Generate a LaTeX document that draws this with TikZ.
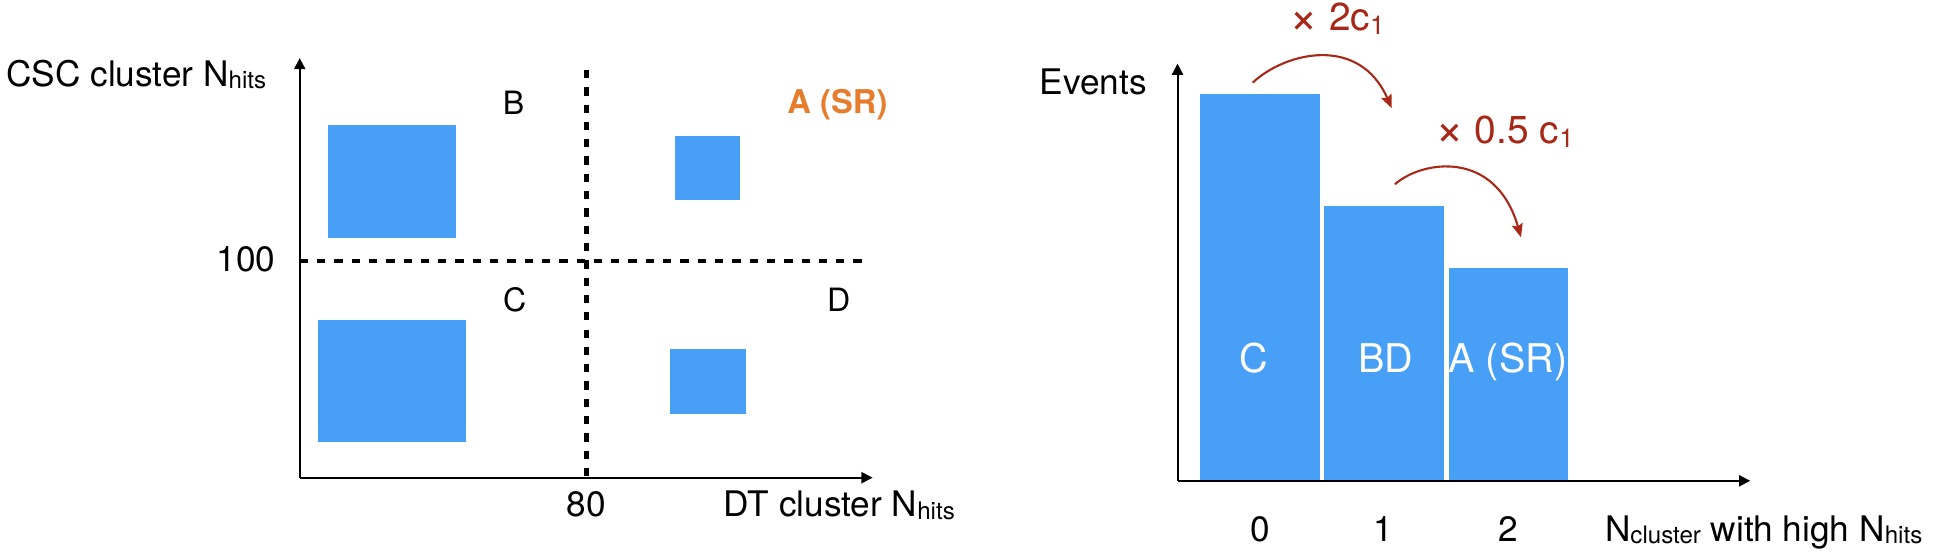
\documentclass[tikz,border=0pt]{standalone}
\usepackage{fontspec}
\setmainfont{TeX Gyre Heros}
\usetikzlibrary{arrows.meta}
\definecolor{barblue}{RGB}{72,159,246}
\definecolor{srorange}{RGB}{230,125,45}
\definecolor{arrred}{RGB}{168,40,24}
\newcommand{\mysub}[1]{\raisebox{-2pt}{\fontsize{19.5}{21}\selectfont #1}}
\newcommand{\redsub}[1]{\raisebox{-3pt}{\fontsize{21}{23}\selectfont #1}}
\newcommand{\bigtimes}{\raisebox{-2pt}[0pt][0pt]{\fontsize{40}{42}\selectfont ×}}
\tikzset{
  axisline/.style={line width=1.6pt, -{Triangle[length=9pt,width=9pt]}},
  cutline/.style={line width=3.3pt, dash pattern=on 6.7pt off 7.3pt},
  blk/.style={fill=barblue, draw=none, inner sep=0pt, anchor=north west},
  lbl/.style={inner sep=0pt, font=\fontsize{28.5}{32}\selectfont},
  qlbl/.style={inner sep=0pt, anchor=base, font=\fontsize{26}{30}\selectfont},
  barlbl/.style={inner sep=0pt, anchor=base, text=white, font=\fontsize{32}{36}\selectfont},
  redlbl/.style={inner sep=0pt, anchor=base west, text=arrred, font=\fontsize{31.5}{36}\selectfont},
  redarrow/.style={draw=arrred, line width=1.7pt, -{Stealth[length=11pt,width=9pt,inset=2pt]}}
}
\begin{document}
\begin{tikzpicture}[x=1pt,y=-1pt]
\useasboundingbox (0,0) rectangle (1568,449);

% ---------- left plot ----------
\node[blk, minimum width=104pt, minimum height=91.5pt] (sqB) at (265,101) {};
\node[blk, minimum width=52.5pt, minimum height=52pt] (sqA) at (546,109.5) {};
\node[blk, minimum width=120pt, minimum height=98.5pt] (sqC) at (257,259) {};
\node[blk, minimum width=62pt, minimum height=52pt] (sqD) at (541.5,282.5) {};

\coordinate (Lo) at (242.5,386.5);
\coordinate (Ly) at (242.5,47);
\coordinate (Lx) at (706,386.5);
\coordinate (h1) at (242.5,210.8);
\coordinate (h2) at (703,210.8);
\coordinate (v1) at (474.5,56.6);
\coordinate (v2) at (474.5,386.5);

\draw[cutline] (h1) -- (h2);
\draw[cutline] (v1) -- (v2);
\draw[axisline] (Lo) -- (Ly);
\draw[axisline] (Lo) -- (Lx);

\node[lbl, anchor=base west] (csc) at (4.9,69.6) {CSC cluster N\mysub{hits}};
\node[lbl, anchor=base west] (dt) at (585.5,418) {DT cluster N\mysub{hits}};
\node[lbl, anchor=base] (t100) at (199,220) {100};
\node[lbl, anchor=base] (t80) at (474.5,418) {80};

\node[qlbl] (lB) at (415.5,92.9) {B};
\node[qlbl] (lC) at (416.5,252.4) {C};
\node[qlbl] (lD) at (678.5,252.4) {D};
\node[inner sep=0pt, anchor=base, text=srorange, font=\fontsize{26.5}{30}\selectfont\bfseries] (lA) at (677.5,91.7) {A (SR)};

% ---------- right plot ----------
\node[blk, minimum width=96.5pt, minimum height=313pt] (barC) at (971,76) {};
\node[blk, minimum width=97pt, minimum height=222.3pt] (barBD) at (1071,166.7) {};
\node[blk, minimum width=96.5pt, minimum height=172pt] (barA) at (1172,217) {};

\coordinate (Ro) at (952.7,389);
\coordinate (Ry) at (952.7,51.5);
\coordinate (Rx) at (1416,389);
\draw[axisline] (Ro) -- (Ry);
\draw[axisline] (Ro) -- (Rx);

\node[barlbl] (bC) at (1014,301) {C};
\node[barlbl] (bBD) at (1121,301) {BD};
\node[barlbl] (bA) at (1220,301) {A (SR)};

\node[lbl, anchor=base west] (ev) at (841,76.3) {Events};
\node[lbl, anchor=base] (k0) at (1020,438) {0};
\node[lbl, anchor=base] (k1) at (1119.5,438) {1};
\node[lbl, anchor=base] (k2) at (1220,438) {2};
\node[lbl, anchor=base west] (nc) at (1298.4,438) {N\mysub{cluster} with high N\mysub{hits}};

\node[redlbl] (r1) at (1043,25) {\bigtimes\ 2c\redsub{1}};
\node[redlbl] (r2) at (1161,116) {\bigtimes\ 0.5 c\redsub{1}};

\coordinate (a1s) at (1013.5,66.9);
\coordinate (a1e) at (1126,87.6);
\coordinate (a2s) at (1128.6,149.1);
\coordinate (a2e) at (1230.6,192);
\draw[redarrow] (a1s) .. controls (1040,42) and (1100,28) .. (a1e);
\draw[redarrow] (a2s) .. controls (1150,130) and (1210,120) .. (a2e);
\end{tikzpicture}
\end{document}
